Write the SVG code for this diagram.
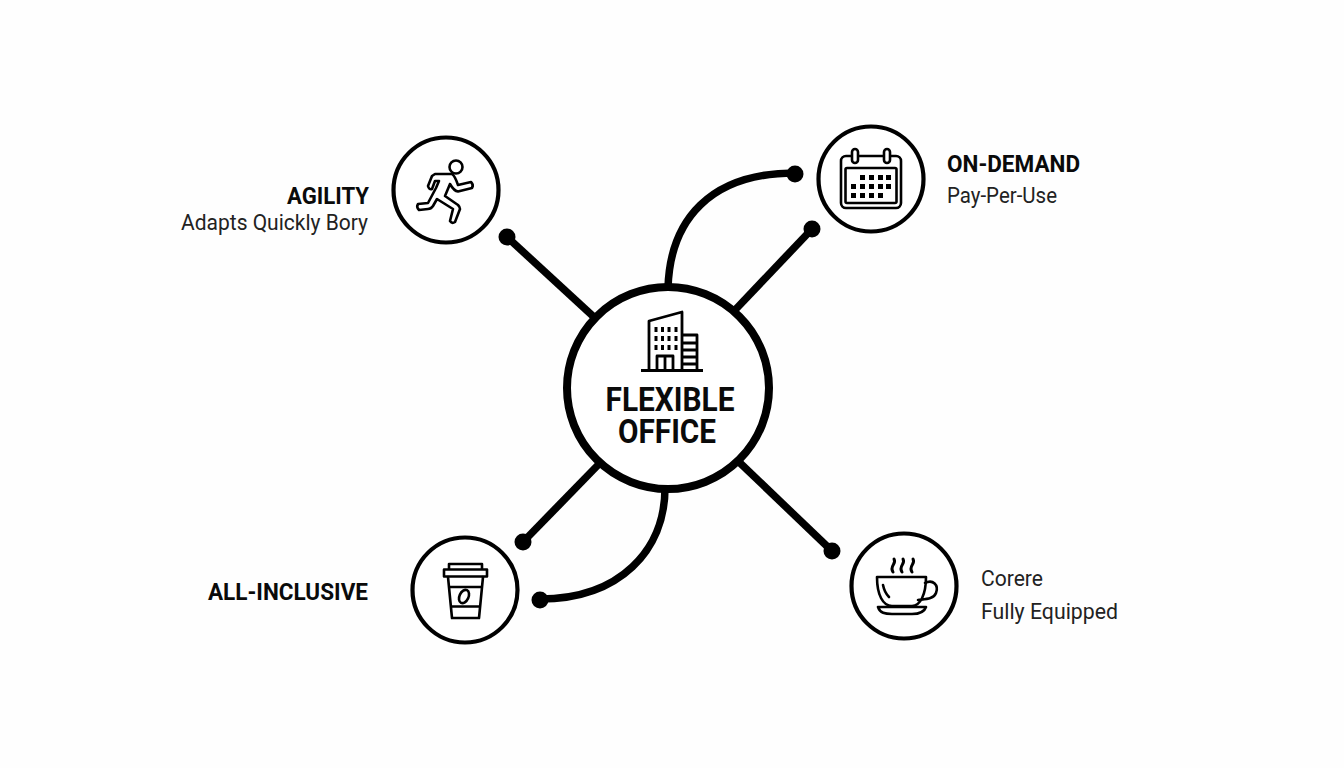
<svg xmlns="http://www.w3.org/2000/svg" width="1344" height="768" viewBox="0 0 1344 768">
<style>
.ring{fill:#fff;stroke:#000;stroke-width:4.2}
.ln{fill:none;stroke:#000;stroke-width:7.5;stroke-linecap:butt}
.ic{fill:none;stroke:#000;stroke-width:2.6;stroke-linejoin:round;stroke-linecap:round}
.b{font-family:"Roboto","Liberation Sans",sans-serif;font-weight:700;fill:#0a0a0a;font-size:24px}
.r{font-family:"Roboto","Liberation Sans",sans-serif;font-weight:400;fill:#222;font-size:22px}
.c{font-family:"Roboto","Liberation Sans",sans-serif;font-weight:700;fill:#0a0a0a;font-size:34px;text-anchor:middle}
.e{text-anchor:end}
</style>
<rect width="1344" height="768" fill="#fefefe"/>
<g id="connectors">
<path class="ln" d="M507 237L595 318"/><circle cx="507" cy="237" r="8.5"/>
<path class="ln" d="M668 288C670 220 710 173 795 173"/><circle cx="795" cy="174" r="8.5"/>
<path class="ln" d="M735 310L812 229"/><circle cx="812" cy="229" r="8.5"/>
<path class="ln" d="M598 465L523 542"/><circle cx="523" cy="542" r="8.5"/>
<path class="ln" d="M665 488C665 550 620 599 540 599"/><circle cx="540" cy="600" r="8.5"/>
<path class="ln" d="M739 462L832 551"/><circle cx="832" cy="551" r="8.5"/>
</g>
<g id="center">
<circle cx="668" cy="388" r="101" fill="#fff" stroke="#000" stroke-width="8"/>
<g class="ic" style="stroke-width:2.8">
<path d="M649 370V321L682 312V370M683 335H697V370M683 343H697M683 350H697M683 357H697M683 364H697"/>
<path d="M657 370V356H673V370M665 356V370"/>
<path d="M641 370.500H703" style="stroke-linecap:butt"/>
</g>
<g fill="#000"><rect x="654.500" y="327" width="3" height="5"/><rect x="661" y="327" width="3" height="5"/><rect x="667.500" y="327" width="3" height="5"/><rect x="674.500" y="327" width="3" height="5"/><rect x="654.500" y="336" width="3" height="5"/><rect x="661" y="336" width="3" height="5"/><rect x="667.500" y="336" width="3" height="5"/><rect x="674.500" y="336" width="3" height="5"/><rect x="654.500" y="345" width="3" height="5"/><rect x="661" y="345" width="3" height="5"/><rect x="667.500" y="345" width="3" height="5"/><rect x="674.500" y="345" width="3" height="5"/></g>
<text class="c" x="670" y="411" textLength="129" lengthAdjust="spacingAndGlyphs">FLEXIBLE</text>
<text class="c" x="667" y="443" textLength="98" lengthAdjust="spacingAndGlyphs">OFFICE</text>
</g>
<g id="agility">
<circle class="ring" cx="446" cy="190" r="52.5"/>
<g class="ic"><circle cx="456" cy="167" r="6.5"/>
<path d="M435 174L452 174Q455 176 458 185L471 182Q474 185 472 188L458 191.500Q454 191 450 184L445 196L458 205Q460 207 460 209L455 222Q452 224 450 221L453 209L437 199L433 206Q431 209 428 209L419 210Q416 207 418 204L428 203L436 188L439 181L435 181L432 189Q429 190 428 186L432 176Z"/></g>
<text class="b e" x="369" y="204" textLength="82" lengthAdjust="spacingAndGlyphs">AGILITY</text>
<text class="r e" x="368" y="230" textLength="187" lengthAdjust="spacingAndGlyphs">Adapts Quickly Bory</text>
</g>
<g id="ondemand">
<circle class="ring" cx="871" cy="179" r="52.5"/>
<g class="ic"><rect x="841" y="156" width="60" height="52" rx="5"/><rect x="845.500" y="168" width="51" height="35" rx="1.500"/><rect x="852" y="149" width="6" height="14" rx="3" fill="#fff"/><rect x="884" y="149" width="6" height="14" rx="3" fill="#fff"/></g>
<g fill="#000"><rect x="860" y="175" width="5" height="5"/><rect x="869" y="175" width="5" height="5"/><rect x="878" y="175" width="5" height="5"/><rect x="886" y="175" width="5" height="5"/><rect x="851" y="184" width="5" height="5"/><rect x="860" y="184" width="5" height="5"/><rect x="869" y="184" width="5" height="5"/><rect x="878" y="184" width="5" height="5"/><rect x="886" y="184" width="5" height="5"/><rect x="851" y="193" width="5" height="5"/><rect x="860" y="193" width="5" height="5"/><rect x="869" y="193" width="5" height="5"/><rect x="878" y="193" width="5" height="5"/></g>
<text class="b" x="947" y="172" textLength="133" lengthAdjust="spacingAndGlyphs">ON-DEMAND</text>
<text class="r" x="947" y="203" textLength="110" lengthAdjust="spacingAndGlyphs">Pay-Per-Use</text>
</g>
<g id="allinclusive">
<circle class="ring" cx="465" cy="590" r="52.5"/>
<g class="ic"><path d="M449 569V564H482V569"/><rect x="444" y="569.500" width="43" height="7" fill="#fff"/><path d="M448 577L452 618H479L483 577M449 587H482M451 606.500H480"/><ellipse cx="464" cy="596.500" rx="4.500" ry="7" transform="rotate(25 464 596.500)"/></g>
<text class="b e" x="368" y="600" textLength="160" lengthAdjust="spacingAndGlyphs">ALL-INCLUSIVE</text>
</g>
<g id="equipped">
<circle class="ring" cx="904" cy="586" r="52.5"/>
<g class="ic"><path d="M877 577H926C926 595 920 606 912 606H892C883 606 877 595 877 577ZM925 583C933 579 939 585 936 593C934 599 925 599 918 600M883 585C884 590 886 594 889 597"/><path d="M878 607H926C924 613 918 614 912 614H892C885 614 880 613 878 607Z"/><path d="M893 572C889 566 897 564 894 559M902 572C898 566 906 564 903 559M912 572C908 566 916 564 913 559" style="stroke-width:3"/></g>
<text class="r" x="981" y="586" textLength="62" lengthAdjust="spacingAndGlyphs">Corere</text>
<text class="r" x="981" y="619" textLength="137" lengthAdjust="spacingAndGlyphs">Fully Equipped</text>
</g>
</svg>
